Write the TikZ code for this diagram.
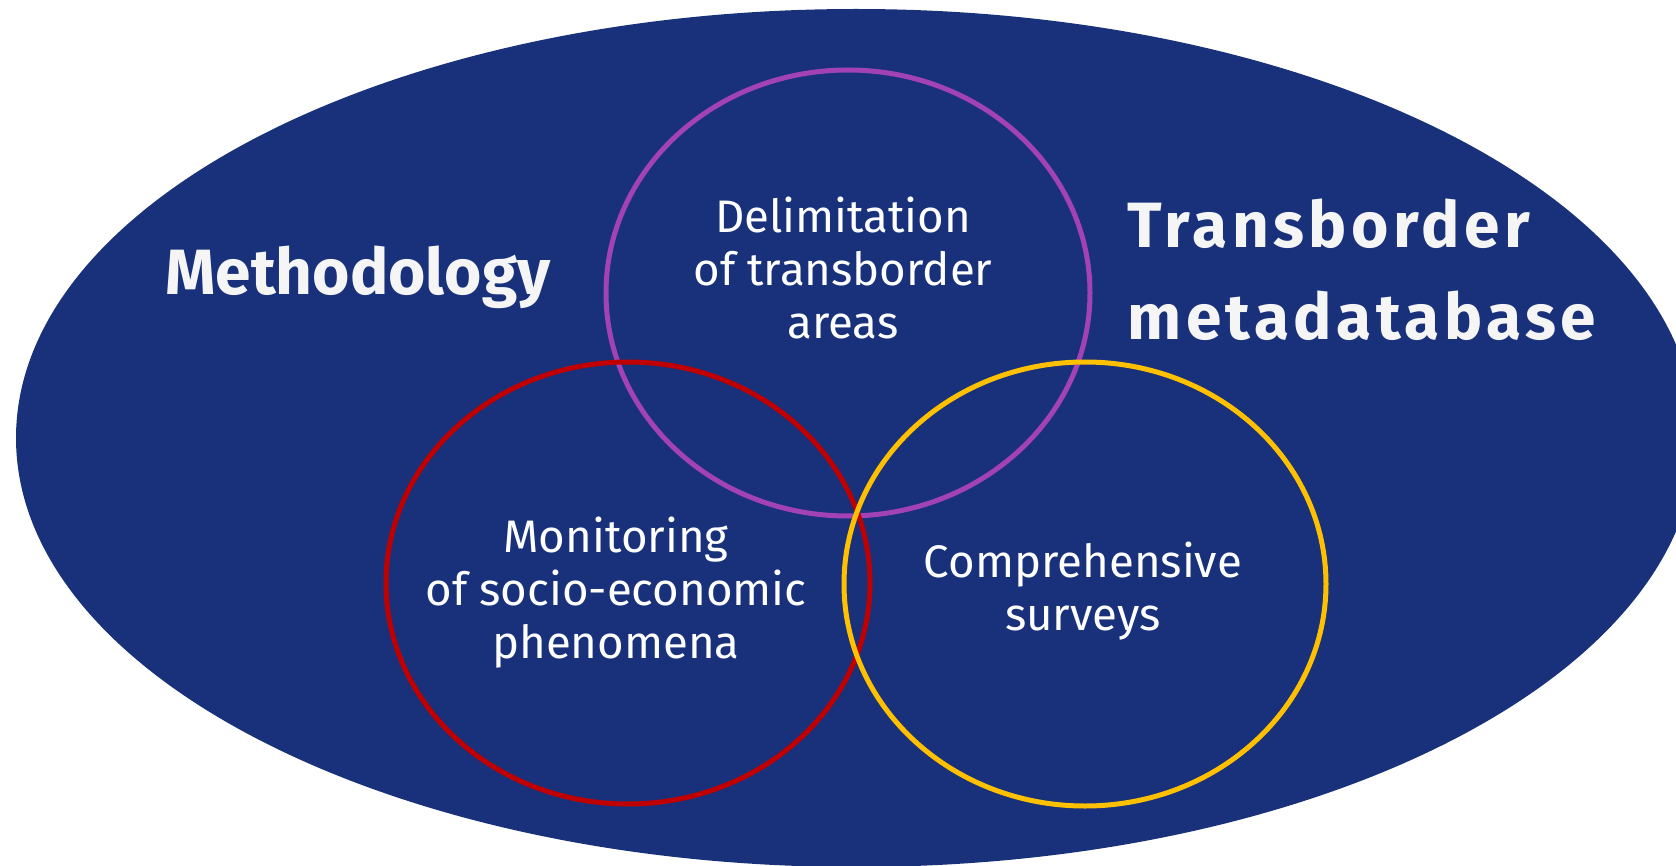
\documentclass[tikz,border=0pt]{standalone}
\usepackage{fontspec}
\setmainfont{Fira Sans}
\definecolor{navy}{RGB}{24,49,122}
\definecolor{venpurple}{RGB}{163,65,183}
\definecolor{venred}{RGB}{192,0,0}
\definecolor{venyellow}{RGB}{255,192,0}
\tikzset{
  ring/.style={line width=5pt},
  label/.style={text=white, align=center, font=\fontsize{45.6}{53}\selectfont},
  title/.style={text=white!96!black, font=\fontsize{64}{92}\bfseries\selectfont}
}
\begin{document}
\begin{tikzpicture}[x=1pt, y=-1pt]
  \useasboundingbox (0,0) rectangle (1676,866);
  \clip (0,0) rectangle (1676,866);

  \fill [navy] (856,438) ellipse [x radius=840pt, y radius=429pt];

  \draw [ring, venpurple] (848,293) ellipse [x radius=242pt, y radius=223pt];
  \draw [ring, venred] (628,583) ellipse [x radius=242pt, y radius=221pt];
  \draw [ring, venyellow] (1085,584) ellipse [x radius=241pt, y radius=222pt];

  \node [label] (delim) at (843,268) {Delimitation\\of transborder\\areas};
  \node [label] (monit) at (616,593) {Monitoring\\of socio-economic\\phenomena};
  \node [label] (surv) at (1083,591) {Comprehensive\\surveys};

  \node [title] (method) at (358,277) {Methodology};
  \node [title, anchor=west, align=left] (meta) at (1124,270)
    {\addfontfeatures{LetterSpace=7}Transborder\\\addfontfeatures{LetterSpace=7}metadatabase};
\end{tikzpicture}
\end{document}
